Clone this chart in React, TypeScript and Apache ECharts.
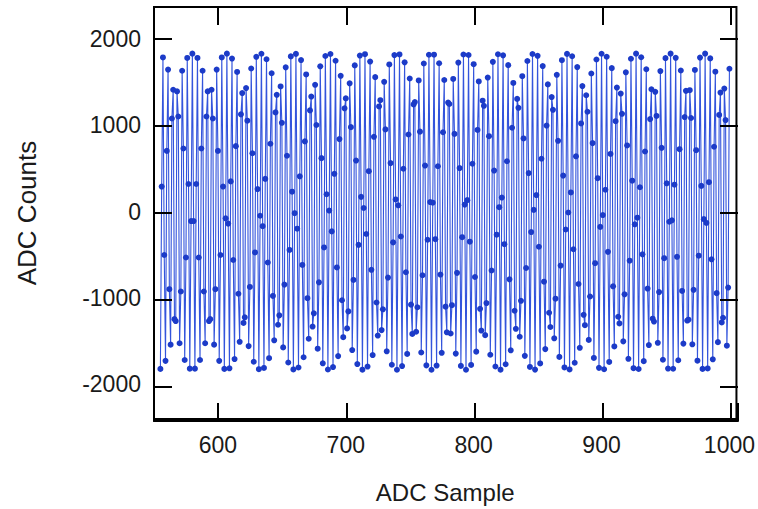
import React, { useEffect, useRef } from "react";
import * as echarts from "echarts";

// First ADC sample index shown and the ADC counts (samples 555..1000)
const sampleStart = 555;
const adcCounts = [
  -1820, 291, 1786, -501, -1727, 704, 1645, -897, -1539, 1079, 1412, -1244, -1266, 1393, 1102, -1523, -924, 1632, 732, -1717, -530, 1780, 321, -1817, -108,
  1830, -108, -1817, 321, 1780, -530, -1717, 732, 1632, -924, -1523, 1102, 1393, -1266, -1244, 1412, 1079, -1539, -897, 1645, 704, -1727, -501, 1786, 291, -1820, -77,
  1830, -138, -1813, 351, 1773, -559, -1706, 759, 1618, -950, -1506, 1127, 1373, -1288, -1223, 1431, 1054, -1556, -871, 1658, 677, -1737, -472, 1793, 262, -1823, -47,
  1829, -168, -1809, 380, 1765, -588, -1696, 787, 1603, -975, -1489, 1150, 1353, -1309, -1200, 1450, 1029, -1571, -844, 1671, 648, -1746, -443, 1798, 232, -1826, -17,
  1827, -197, -1804, 410, 1756, -616, -1685, 814, 1589, -1001, -1471, 1173, 1333, -1330, -1176, 1469, 1004, -1586, -818, 1683, 620, -1755, -414, 1803, 202, -1827, 13,
  1826, -228, -1799, 439, 1748, -645, -1672, 841, 1573, -1025, -1453, 1197, 1312, -1351, -1154, 1486, 979, -1602, -790, 1694, 592, -1764, -384, 1808, 172, -1829, 43,
  1824, -258, -1793, 469, 1738, -673, -1660, 867, 1558, -1051, -1434, 1219, 1291, -1371, -1130, 1504, 953, -1616, -763, 1705, 563, -1772, -355, 1813, 142, -1830, 74,
  1821, -287, -1787, 497, 1729, -701, -1647, 894, 1542, -1076, -1415, 1242, 1269, -1390, -1106, 1520, 927, -1630, -736, 1716, 534, -1779, -325, 1817, 112, -1830, 104,
  1818, -318, -1781, 526, 1719, -728, -1634, 920, 1525, -1099, -1396, 1263, 1247, -1410, -1082, 1537, 901, -1643, -708, 1726, 505, -1785, -295, 1820, 82, -1830, 134,
  1814, -347, -1774, 555, 1708, -756, -1620, 947, 1508, -1124, -1376, 1285, 1226, -1429, -1058, 1553, 874, -1656, -681, 1735, 476, -1792, -266, 1823, 52, -1829, 164,
  1810, -376, -1766, 584, 1697, -783, -1605, 972, 1491, -1147, -1356, 1306, 1203, -1448, -1032, 1569, 848, -1669, -652, 1745, 447, -1797, -236, 1826, 21, -1828, 193,
  1805, -406, -1757, 613, 1686, -810, -1591, 997, 1474, -1170, -1335, 1327, 1180, -1466, -1007, 1585, 821, -1681, -624, 1754, 418, -1803, -206, 1827, -9, -1826, 223,
  1800, -435, -1749, 641, 1674, -837, -1576, 1022, 1455, -1194, -1314, 1348, 1157, -1484, -982, 1600, 794, -1693, -596, 1762, 388, -1808, -176, 1829, -39, -1824, 254,
  1794, -465, -1739, 669, 1662, -864, -1560, 1048, 1437, -1216, -1294, 1368, 1133, -1501, -957, 1614, 767, -1703, -567, 1771, 359, -1812, -146, 1830, -69, -1821, 283,
  1788, -493, -1730, 697, 1649, -890, -1544, 1072, 1418, -1239, -1272, 1388, 1109, -1518, -931, 1628, 739, -1714, -538, 1778, 329, -1816, -116, 1830, -100, -1818, 313,
  1782, -522, -1720, 724, 1635, -917, -1527, 1096, 1399, -1260, -1250, 1407, 1085, -1535, -905, 1641, 712, -1725, -509, 1784, 299, -1820, -86, 1830, -130, -1815, 342,
  1775, -551, -1709, 752, 1621, -943, -1510, 1120, 1379, -1282, -1228, 1426, 1061, -1551, -878, 1655,
];

const xTicks = [600, 700, 800, 900, 1000];
const yTicks = [-2000, -1000, 0, 1000, 2000];
const xRange = [550, 1005.5];
const yRange = [-2400, 2370];

const FONT = "'Liberation Sans', Arial, Helvetica, sans-serif";
const GRID = { left: 154, right: 20, top: 7, bottom: 88 };
const W = 758;
const H = 509;
const TICK_LEN = 18;

export default function App() {
  const ref = useRef<HTMLDivElement>(null);
  const tickRef = useRef<HTMLDivElement>(null);

  useEffect(() => {
    if (!ref.current || !tickRef.current) return;

    // ---- main chart: frame, labels, titles and the sampled waveform ----
    const chart = echarts.init(ref.current, null, { renderer: "svg" });
    const data = adcCounts.map((v, i) => [sampleStart + i, v]);

    chart.setOption({
      animation: false,
      grid: { ...GRID, show: true, borderColor: "#000", borderWidth: 2 },
      xAxis: {
        type: "value",
        min: xRange[0],
        max: xRange[1],
        axisLine: { show: true, onZero: false, lineStyle: { color: "#000", width: 2 } },
        axisTick: { show: false },
        axisLabel: {
          fontSize: 23,
          color: "#1a1a1a",
          fontFamily: FONT,
          margin: 14,
          formatter: (v: number) => (xTicks.indexOf(v) >= 0 ? String(v) : ""),
        },
        splitLine: { show: false },
        name: "ADC Sample",
        nameLocation: "middle",
        nameGap: 61,
        nameTextStyle: { fontSize: 24, color: "#1a1a1a", fontFamily: FONT },
      },
      yAxis: {
        type: "value",
        min: yRange[0],
        max: yRange[1],
        axisLine: { show: true, onZero: false, lineStyle: { color: "#000", width: 2 } },
        axisTick: { show: false },
        axisLabel: {
          fontSize: 23,
          color: "#1a1a1a",
          fontFamily: FONT,
          margin: 13,
          formatter: (v: number) => (yTicks.indexOf(v) >= 0 ? String(v) : ""),
        },
        splitLine: { show: false },
        name: "ADC Counts",
        nameLocation: "middle",
        nameGap: 114,
        nameTextStyle: { fontSize: 26, color: "#1a1a1a", fontFamily: FONT },
      },
      series: [
        {
          type: "line",
          data,
          showAllSymbol: true,
          symbol: "circle",
          symbolSize: 6,
          lineStyle: { color: "#3354dc", width: 1.1 },
          itemStyle: { color: "#1c3bc8" },
        },
      ],
    });

    // ---- transparent overlay chart with the same scales: inward ticks on all four sides ----
    const ticks = echarts.init(tickRef.current, null, { renderer: "svg" });
    const plotW = W - GRID.left - GRID.right;
    const plotH = H - GRID.top - GRID.bottom;
    const dx = (TICK_LEN * (xRange[1] - xRange[0])) / plotW;
    const dy = (TICK_LEN * (yRange[1] - yRange[0])) / plotH;
    const mirrorTicks: any[] = [];
    xTicks.forEach((v) => {
      mirrorTicks.push([{ coord: [v, yRange[1]] }, { coord: [v, yRange[1] - dy] }]);
      mirrorTicks.push([{ coord: [v, yRange[0]] }, { coord: [v, yRange[0] + dy] }]);
    });
    yTicks.forEach((v) => {
      mirrorTicks.push([{ coord: [xRange[1], v] }, { coord: [xRange[1] - dx, v] }]);
      mirrorTicks.push([{ coord: [xRange[0], v] }, { coord: [xRange[0] + dx, v] }]);
    });

    ticks.setOption({
      animation: false,
      backgroundColor: "transparent",
      grid: { ...GRID },
      xAxis: {
        type: "value",
        min: xRange[0],
        max: xRange[1],
        axisLine: { show: true, onZero: false, lineStyle: { color: "#000", width: 2 } },
        axisTick: { show: true, inside: true, length: TICK_LEN, lineStyle: { color: "#000", width: 2 } },
        axisLabel: { show: false },
        splitLine: { show: false },
      },
      yAxis: {
        type: "value",
        min: yRange[0],
        max: yRange[1],
        axisLine: { show: true, lineStyle: { color: "#000", width: 2 } },
        axisTick: { show: true, inside: true, length: TICK_LEN, lineStyle: { color: "#000", width: 2 } },
        axisLabel: { show: false },
        splitLine: { show: false },
      },
      series: [
        {
          type: "line",
          data: [[xRange[0], yRange[0]]],
          showSymbol: false,
          lineStyle: { opacity: 0 },
          markLine: {
            symbol: ["none", "none"],
            label: { show: false },
            lineStyle: { color: "#000", width: 2, type: "solid" },
            data: mirrorTicks,
          },
        },
      ],
    });

    return () => {
      ticks.dispose();
      chart.dispose();
    };
  }, []);

  return (
    <div style={{ position: "fixed", left: 0, top: 0, width: W, height: H, background: "#fff" }}>
      <div ref={ref} style={{ position: "absolute", left: 0, top: 0, width: W, height: H }} />
      <div
        ref={tickRef}
        style={{ position: "absolute", left: 0, top: 0, width: W, height: H, pointerEvents: "none" }}
      />
    </div>
  );
}
